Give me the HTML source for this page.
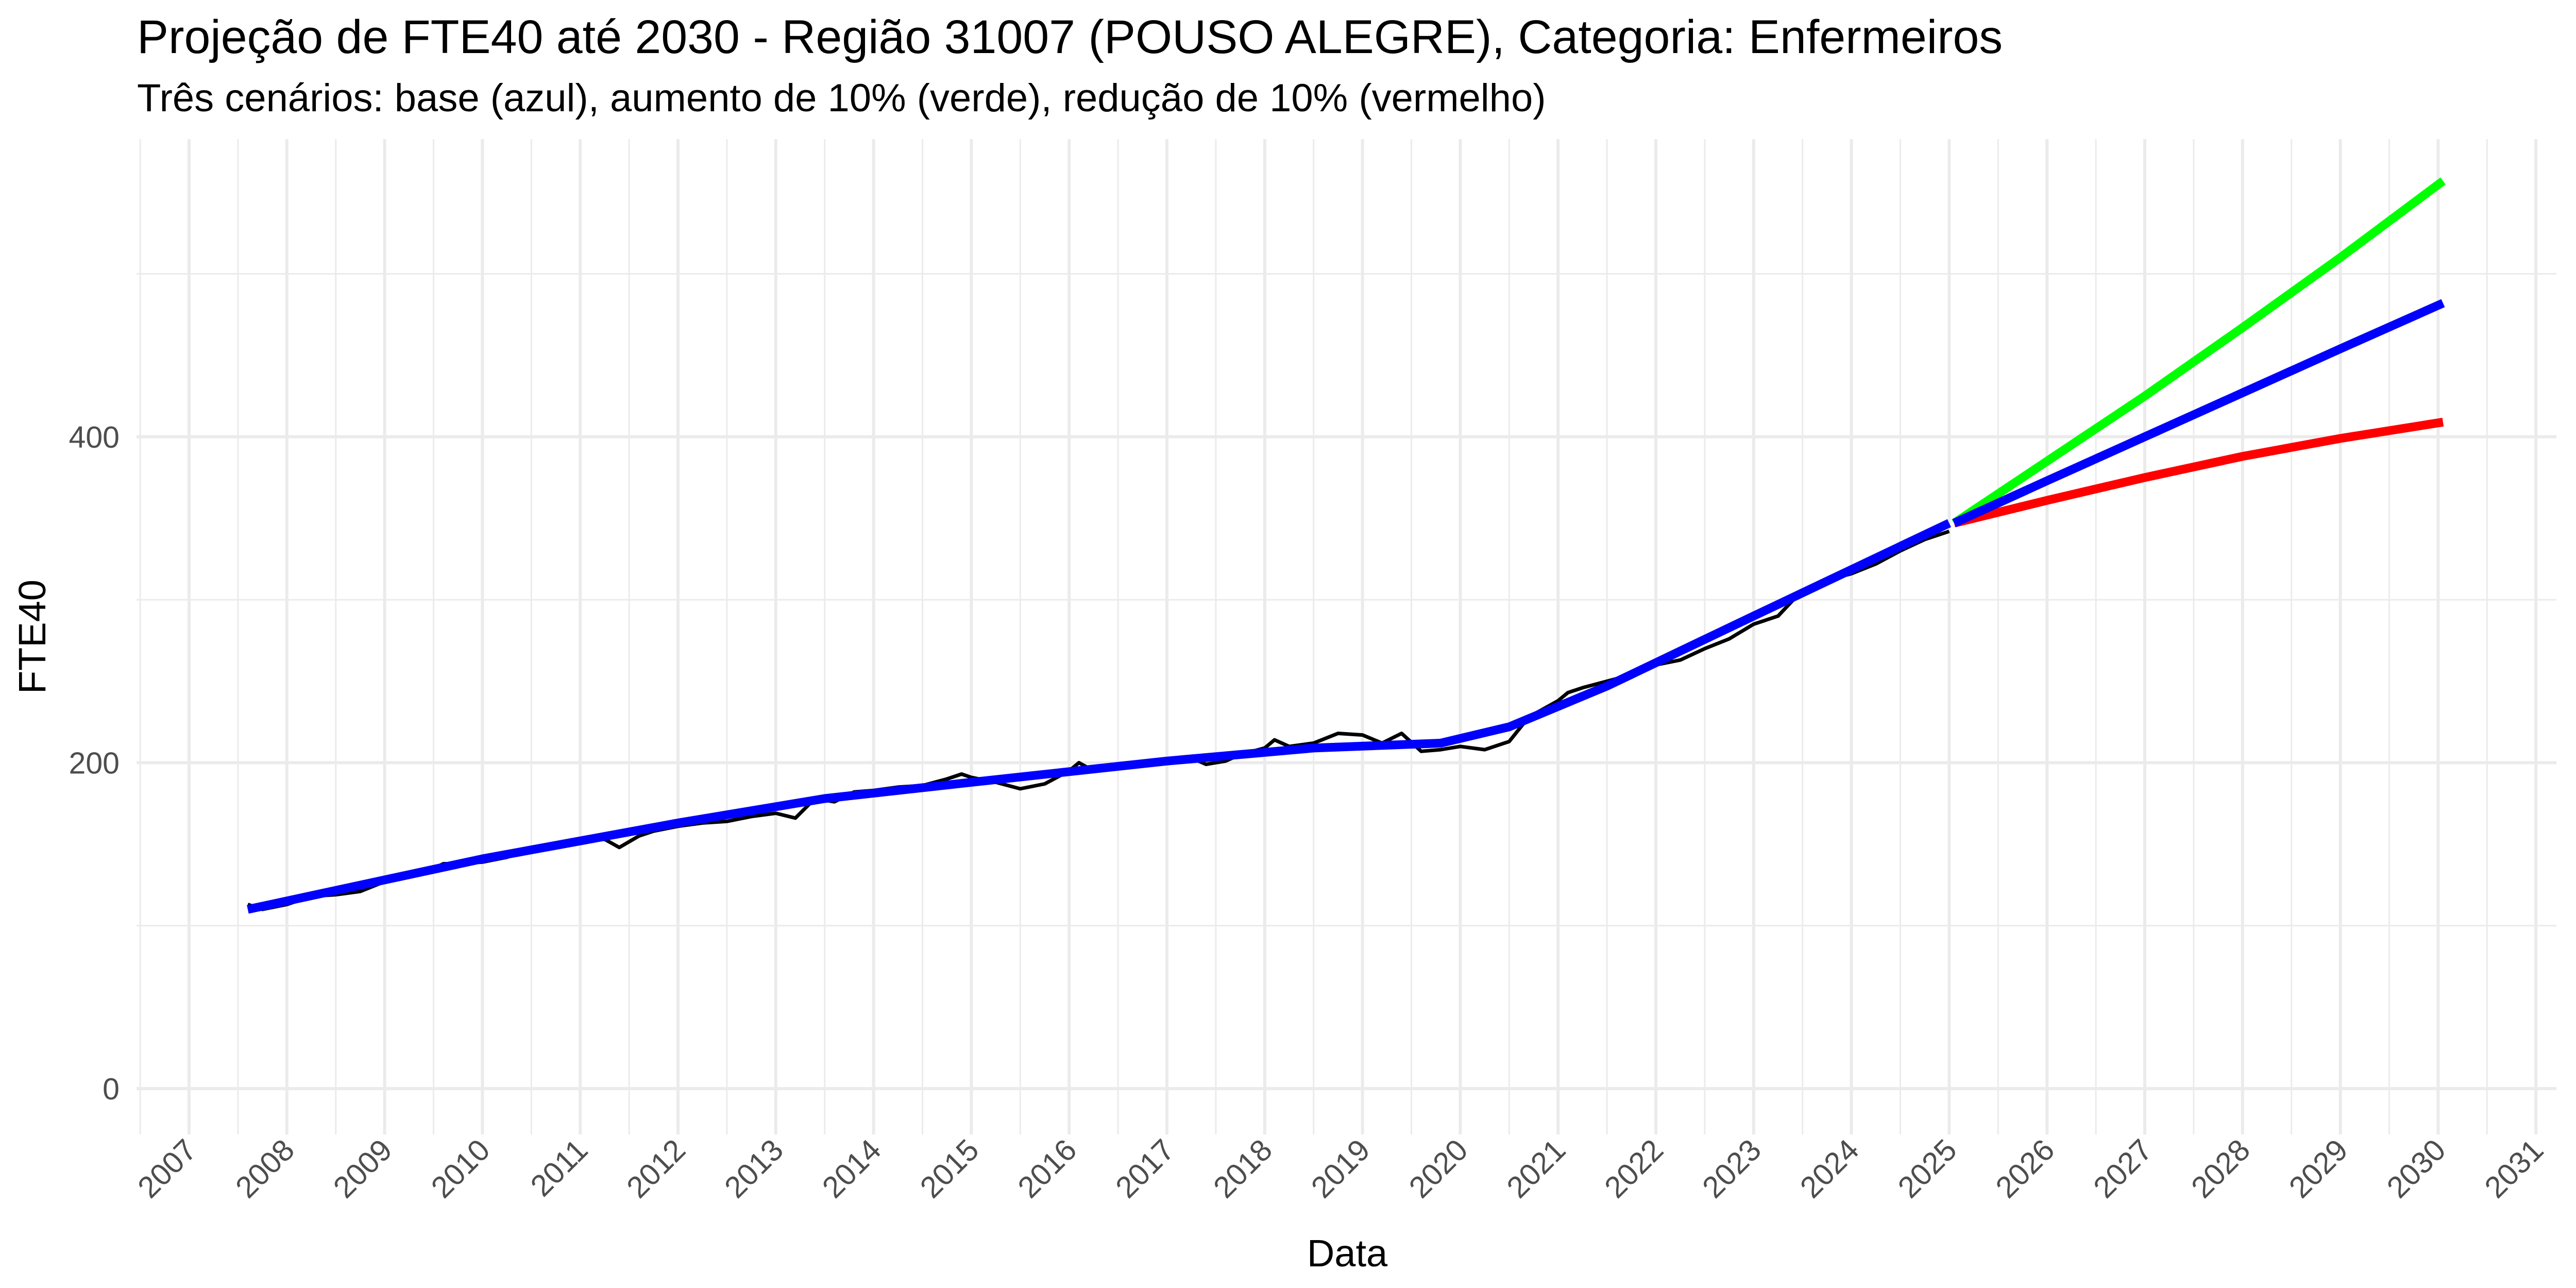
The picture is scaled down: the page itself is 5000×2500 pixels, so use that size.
<!DOCTYPE html>
<html><head><meta charset="utf-8"><style>
html,body{margin:0;padding:0;background:#fff;}
svg{display:block;font-family:"Liberation Sans",Arial,sans-serif;}
</style></head><body>
<svg id="chart" width="5000" height="2500" viewBox="0 0 5000 2500" xmlns="http://www.w3.org/2000/svg">
<rect x="0" y="0" width="5000" height="2500" fill="#fff"/>
<text x="266" y="103" font-size="91.5" fill="#000">Projeção de FTE40 até 2030 - Região 31007 (POUSO ALEGRE), Categoria: Enfermeiros</text>
<text x="266" y="216" font-size="76" fill="#000">Três cenários: base (azul), aumento de 10% (verde), redução de 10% (vermelho)</text>
<g id="grid"></g>
<g id="yticks"></g>
<g id="xticks"></g>
<g id="series"></g>
<text x="2615" y="2458" font-size="74" text-anchor="middle" fill="#000">Data</text>
<text transform="translate(88,1236) rotate(-90)" font-size="74" text-anchor="middle" fill="#000">FTE40</text>
</svg>
<script>
const xYears = [2007,2008,2009,2010,2011,2012,2013,2014,2015,2016,2017,2018,2019,2020,2021,2022,2023,2024,2025,2026,2027,2028,2029,2030,2031];
const yTicks = [0,200,400];
const yMinor = [100,300,500];
const obsT = [2007.6,2007.75,2008,2008.25,2008.5,2008.75,2009,2009.25,2009.5,2009.6,2009.75,2010,2010.25,2010.5,2010.75,2011,2011.25,2011.4,2011.6,2011.75,2012,2012.25,2012.5,2012.75,2013,2013.2,2013.4,2013.6,2013.8,2014,2014.25,2014.5,2014.75,2014.9,2015,2015.25,2015.5,2015.75,2016,2016.1,2016.25,2016.5,2016.75,2017,2017.25,2017.4,2017.6,2017.75,2018,2018.1,2018.25,2018.5,2018.75,2019,2019.2,2019.4,2019.6,2019.8,2020,2020.25,2020.5,2020.7,2021,2021.1,2021.25,2021.5,2021.75,2022,2022.25,2022.5,2022.75,2023,2023.25,2023.5,2023.75,2024,2024.25,2024.5,2024.75,2025];
const obsV = [113,110,113,118,119,121,127,130,135,138,138,139,142,147,149,152,153,148,155,158,161,163,164,167,169,166,178,176,182,183,185,186,190,193,191,188,184,187,195,200,195,198,199,201,203,199,201,205,209,214,210,212,218,217,212,218,207,208,210,208,213,228,238,243,246,250,254,260,263,270,276,285,290,306,312,316,322,330,337,342];
const trendT = [2007.6,2010,2012,2013.5,2015,2017,2018.5,2019.8,2020.5,2021.5,2023,2025];
const trendV = [110,141,163,178,188,201,209,212,222,247,290,347];
const projT = [2025.05,2026,2027,2028,2029,2030.05];
const baseV = [347,373,400,427,454,482];
const highV = [347,385,425,467,510,557];
const lowV = [347,361,375,388,399,409];

const NS='http://www.w3.org/2000/svg';
function xs(t){return 367+(t-2007)*189.8;}
function ys(v){return 2113-v*3.163;}
function mk(tag,attrs,parent){const e=document.createElementNS(NS,tag);for(const k in attrs)e.setAttribute(k,attrs[k]);parent.appendChild(e);return e;}
const grid=document.getElementById('grid');
const L=265,R=4962,T=270,B=2202;
yMinor.forEach(v=>{const l=mk('line',{x1:L,x2:R,y1:ys(v),y2:ys(v),stroke:'#EBEBEB','stroke-width':3},grid);

});
yTicks.forEach(v=>{const l=mk('line',{x1:L,x2:R,y1:ys(v),y2:ys(v),stroke:'#EBEBEB','stroke-width':6},grid);

});
xYears.forEach(y=>{const mx=xs(y-0.5);if(mx>=L-2&&mx<=R){const l=mk('line',{x1:mx,x2:mx,y1:T,y2:B,stroke:'#EBEBEB','stroke-width':3},grid);

}
const l2=mk('line',{x1:xs(y),x2:xs(y),y1:T,y2:B,stroke:'#EBEBEB','stroke-width':6},grid);

});
const yt=document.getElementById('yticks');
yTicks.forEach(v=>{const t=mk('text',{x:232,y:ys(v)+21,'font-size':59,'text-anchor':'end',fill:'#4D4D4D'},yt);t.textContent=v;

});
const xt=document.getElementById('xticks');
xYears.forEach(y=>{const t=mk('text',{transform:'translate('+(xs(y)+18)+',2236) rotate(-45)','font-size':59,'text-anchor':'end',fill:'#4D4D4D'},xt);t.textContent=y;

});
const S=document.getElementById('series');
function path(T,V,color,w,name){const d=T.map((t,i)=>(i?'L':'M')+xs(t).toFixed(1)+','+ys(V[i]).toFixed(1)).join(' ');
const p=mk('path',{d:d,fill:'none',stroke:color,'stroke-width':w,'stroke-linejoin':'round'},S);

}
path(obsT,obsV,'#000',7,'observed-line');
path(trendT,trendV,'#0000FF',17,'trend-line');
path(projT,highV,'#00FF00',17,'projection-increase-line');
path(projT,lowV,'#FF0000',17,'projection-decrease-line');
path(projT,baseV,'#0000FF',17,'projection-base-line');
</script>
</body></html>
